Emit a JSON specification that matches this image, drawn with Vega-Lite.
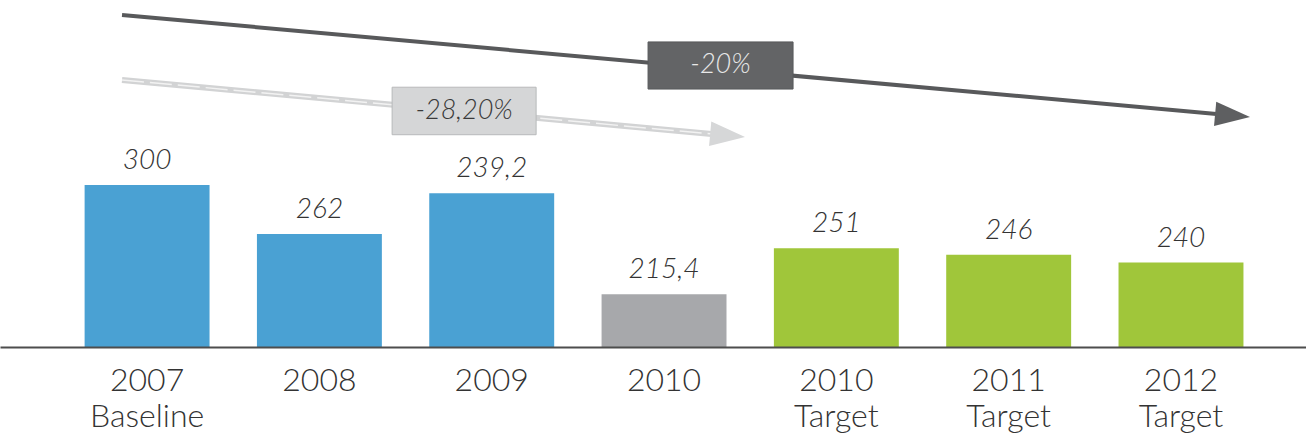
{
  "$schema": "https://vega.github.io/schema/vega-lite/v6.json",
  "width": 1306,
  "height": 347,
  "autosize": {"type": "none"},
  "padding": {"left": 0, "top": 0, "right": 0, "bottom": 90},
  "background": "white",
  "config": {"view": {"stroke": null}, "font": "Lato"},
  "datasets": {
    "bars": [
      {"cat": "2007|Baseline", "bar": 300, "label": "300", "type": "actual"},
      {"cat": "2008", "bar": 262, "label": "262", "type": "actual"},
      {"cat": "2009", "bar": 293.6, "label": "239,2", "type": "actual"},
      {"cat": "2010", "bar": 215.4, "label": "215,4", "type": "current"},
      {"cat": "2010|Target", "bar": 251, "label": "251", "type": "target"},
      {"cat": "2011|Target", "bar": 246, "label": "246", "type": "target"},
      {"cat": "2012|Target", "bar": 240, "label": "240", "type": "target"}
    ],
    "lines": [
      {"arrow": "dark", "pt": 0, "x": -0.145, "y": 431.6},
      {"arrow": "dark", "pt": 1, "x": 6.285, "y": 354.0},
      {"arrow": "light", "pt": 0, "x": -0.145, "y": 381.3},
      {"arrow": "light", "pt": 1, "x": 3.355, "y": 338.55}
    ],
    "heads": [
      {"arrow": "dark", "x": 6.4, "y": 352.6},
      {"arrow": "light", "x": 3.47, "y": 337.2}
    ],
    "boxes": [
      {"arrow": "dark", "x": 3.328, "y": 392.5, "text": "-20%"},
      {"arrow": "light", "x": 1.84, "y": 357.3, "text": "-28,20%"}
    ]
  },
  "layer": [
    {
      "data": {"name": "bars"},
      "encoding": {
        "x": {
          "field": "cat", "type": "nominal", "sort": null,
          "scale": {"paddingInner": 0.275, "paddingOuter": 0.427, "align": 0.575},
          "axis": {
            "title": null, "domainColor": "#4d4d4d", "domainWidth": 2, "ticks": false,
            "labelFontSize": 32, "labelFont": "Lato", "labelFontWeight": 300, "labelColor": "#333333",
            "labelPadding": 18, "labelLineHeight": 36, "labelAngle": 0, "labelLimit": 300,
            "labelOverlap": false, "labelExpr": "split(datum.label, '|')", "zindex": 1
          }
        },
        "y": {
          "field": "bar", "type": "quantitative",
          "scale": {"domain": [174.6, 443.2], "zero": false, "nice": false},
          "axis": null
        }
      },
      "layer": [
        {
          "mark": {"type": "bar"},
          "encoding": {
            "y2": {"datum": 174.6},
            "color": {
              "field": "type", "type": "nominal",
              "scale": {"domain": ["actual", "current", "target"], "range": ["#4aa1d3", "#a7a8ab", "#a0c63a"]},
              "legend": null
            }
          }
        },
        {
          "mark": {"type": "text", "dy": -16, "baseline": "alphabetic", "fontStyle": "italic", "fontWeight": 300, "fontSize": 28, "color": "#333333"},
          "encoding": {"text": {"field": "label"}}
        }
      ]
    },
    {
      "encoding": {
        "x": {"field": "x", "type": "quantitative", "scale": {"domain": [-0.853, 6.725], "nice": false, "zero": false}, "axis": null},
        "y": {"field": "y", "type": "quantitative", "scale": {"domain": [174.6, 443.2], "zero": false, "nice": false}, "axis": null}
      },
      "layer": [
        {
          "data": {"name": "lines"},
          "transform": [{"filter": "datum.arrow === 'light'"}],
          "mark": {"type": "line", "color": "#d2d3d4", "strokeWidth": 6, "strokeCap": "butt"},
          "encoding": {"order": {"field": "pt"}}
        },
        {
          "data": {"name": "lines"},
          "transform": [{"filter": "datum.arrow === 'light'"}],
          "mark": {"type": "line", "color": "#f2f2f2", "strokeWidth": 1.5, "strokeCap": "butt", "strokeDash": [22, 6]},
          "encoding": {"order": {"field": "pt"}}
        },
        {
          "data": {"name": "heads"},
          "transform": [{"filter": "datum.arrow === 'light'"}],
          "mark": {"type": "point", "shape": "M-2,-0.7L0,0L-2,0.7Z", "size": 1225, "filled": true, "opacity": 1, "color": "#d6d7d8", "angle": 5.23}
        },
        {
          "data": {"name": "lines"},
          "transform": [{"filter": "datum.arrow === 'dark'"}],
          "mark": {"type": "line", "color": "#58595b", "strokeWidth": 4, "strokeCap": "butt"},
          "encoding": {"order": {"field": "pt"}}
        },
        {
          "data": {"name": "heads"},
          "transform": [{"filter": "datum.arrow === 'dark'"}],
          "mark": {"type": "point", "shape": "M-2,-0.7L0,0L-2,0.7Z", "size": 1225, "filled": true, "opacity": 1, "color": "#5e5f61", "angle": 5.17}
        },
        {
          "data": {"name": "boxes"},
          "transform": [{"filter": "datum.arrow === 'light'"}],
          "mark": {"type": "point", "shape": "M-1,-0.33H1V0.33H-1Z", "size": 20736, "filled": true, "opacity": 1, "fill": "#d5d6d7", "stroke": "#b8b9ba", "strokeWidth": 1}
        },
        {
          "data": {"name": "boxes"},
          "transform": [{"filter": "datum.arrow === 'dark'"}],
          "mark": {"type": "point", "shape": "M-1,-0.325H1V0.325H-1Z", "size": 21025, "filled": true, "opacity": 1, "fill": "#636466", "stroke": "#58595b", "strokeWidth": 1}
        },
        {
          "data": {"name": "boxes"},
          "transform": [{"filter": "datum.arrow === 'light'"}],
          "mark": {"type": "text", "fontSize": 27, "fontStyle": "italic", "fontWeight": 300, "color": "#3a3a3a", "baseline": "middle", "align": "center"},
          "encoding": {"text": {"field": "text"}}
        },
        {
          "data": {"name": "boxes"},
          "transform": [{"filter": "datum.arrow === 'dark'"}],
          "mark": {"type": "text", "fontSize": 27, "fontStyle": "italic", "fontWeight": 300, "color": "#e8e8e8", "baseline": "middle", "align": "center"},
          "encoding": {"text": {"field": "text"}}
        }
      ]
    }
  ],
  "resolve": {"scale": {"x": "independent"}}
}
